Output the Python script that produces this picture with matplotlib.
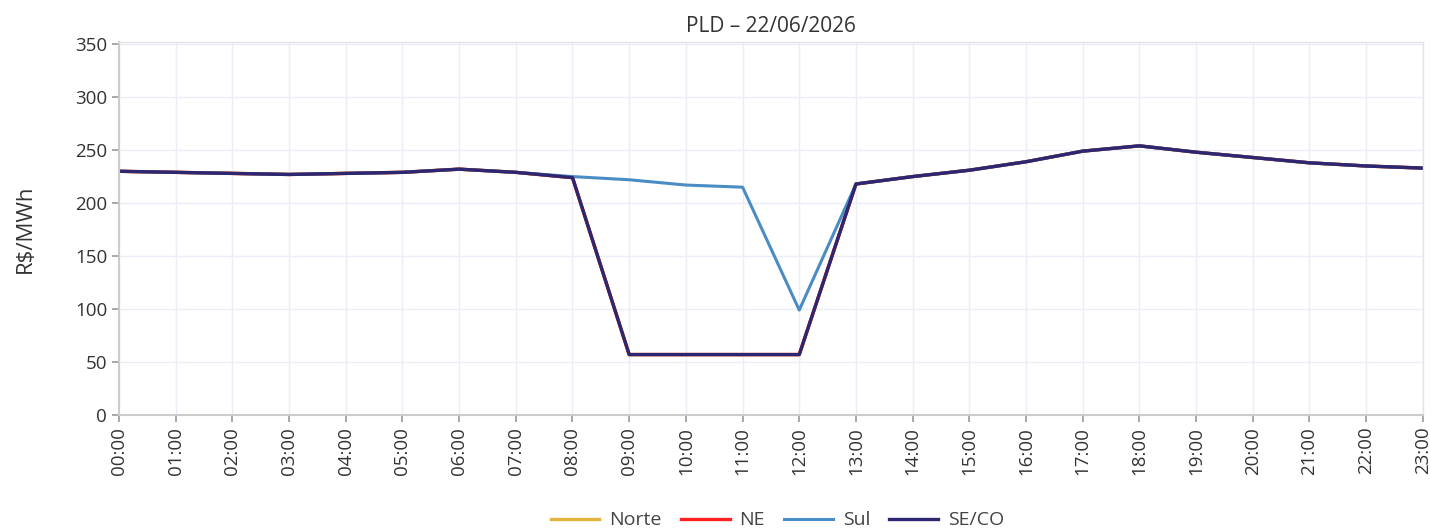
import matplotlib
matplotlib.use("Agg")
import matplotlib.pyplot as plt

plt.rcParams['font.family'] = ['Open Sans', 'DejaVu Sans']

horas = ["%02d:00" % h for h in range(24)]

# PLD por submercado (R$/MWh)
norte = [230, 229, 228, 227, 228, 229, 232, 229, 224, 57, 57, 57, 57, 218,
         225, 231, 239, 249, 254, 248, 243, 238, 235, 233]
ne = [230, 229, 228, 227, 228, 229, 232, 229, 224, 57, 57, 57, 57, 218,
      225, 231, 239, 249, 254, 248, 243, 238, 235, 233]
sul = [230, 229, 228, 227, 228, 229, 232, 229, 225, 222, 217, 215, 99, 218,
       225, 231, 239, 249, 254, 248, 243, 238, 235, 233]
seco = [230, 229, 228, 227, 228, 229, 232, 229, 224, 57, 57, 57, 57, 218,
        225, 231, 239, 249, 254, 248, 243, 238, 235, 233]

fig = plt.figure(figsize=(14.3, 5.32), dpi=100)
ax = fig.add_axes([0.0832, 0.22, 0.9118, 0.701])

x = list(range(len(horas)))
ax.plot(x, norte, color='#E3B53E', lw=2.4, label='Norte')
ax.plot(x, ne, color='#FF2020', lw=2.4, label='NE')
ax.plot(x, sul, color='#4A8CC4', lw=2.2, label='Sul')
ax.plot(x, seco, color='#2D2670', lw=2.4, label='SE/CO')

ax.set_xlim(0, 23)
ax.set_ylim(0, 352)
ax.set_xticks(x)
ax.set_xticklabels(horas, rotation=90)
ax.set_yticks(range(0, 351, 50))

ax.grid(True, color='#EBEEF6', lw=1)
ax.set_axisbelow(True)
for s in ['top', 'right']:
    ax.spines[s].set_color('#E4E4E4')
    ax.spines[s].set_linewidth(1)
for s in ['left', 'bottom']:
    ax.spines[s].set_color('#CCCCCC')
    ax.spines[s].set_linewidth(1.5)
ax.tick_params(colors='#333333', labelsize=13.5, length=5, width=1.2)
ax.tick_params(axis='both', color='#999999')

ax.set_ylabel('R$/MWh', fontsize=16, color='#333333', labelpad=28)
ax.set_title('PLD – 22/06/2026', fontsize=15, color='#333333', pad=7)

ax.legend(loc='center', bbox_to_anchor=(0.505, -0.283), ncol=4, frameon=False,
          fontsize=14, handlelength=2.5, columnspacing=1.0, handletextpad=0.5,
          labelcolor='#444444')

fig.savefig('out.png', dpi=100)
